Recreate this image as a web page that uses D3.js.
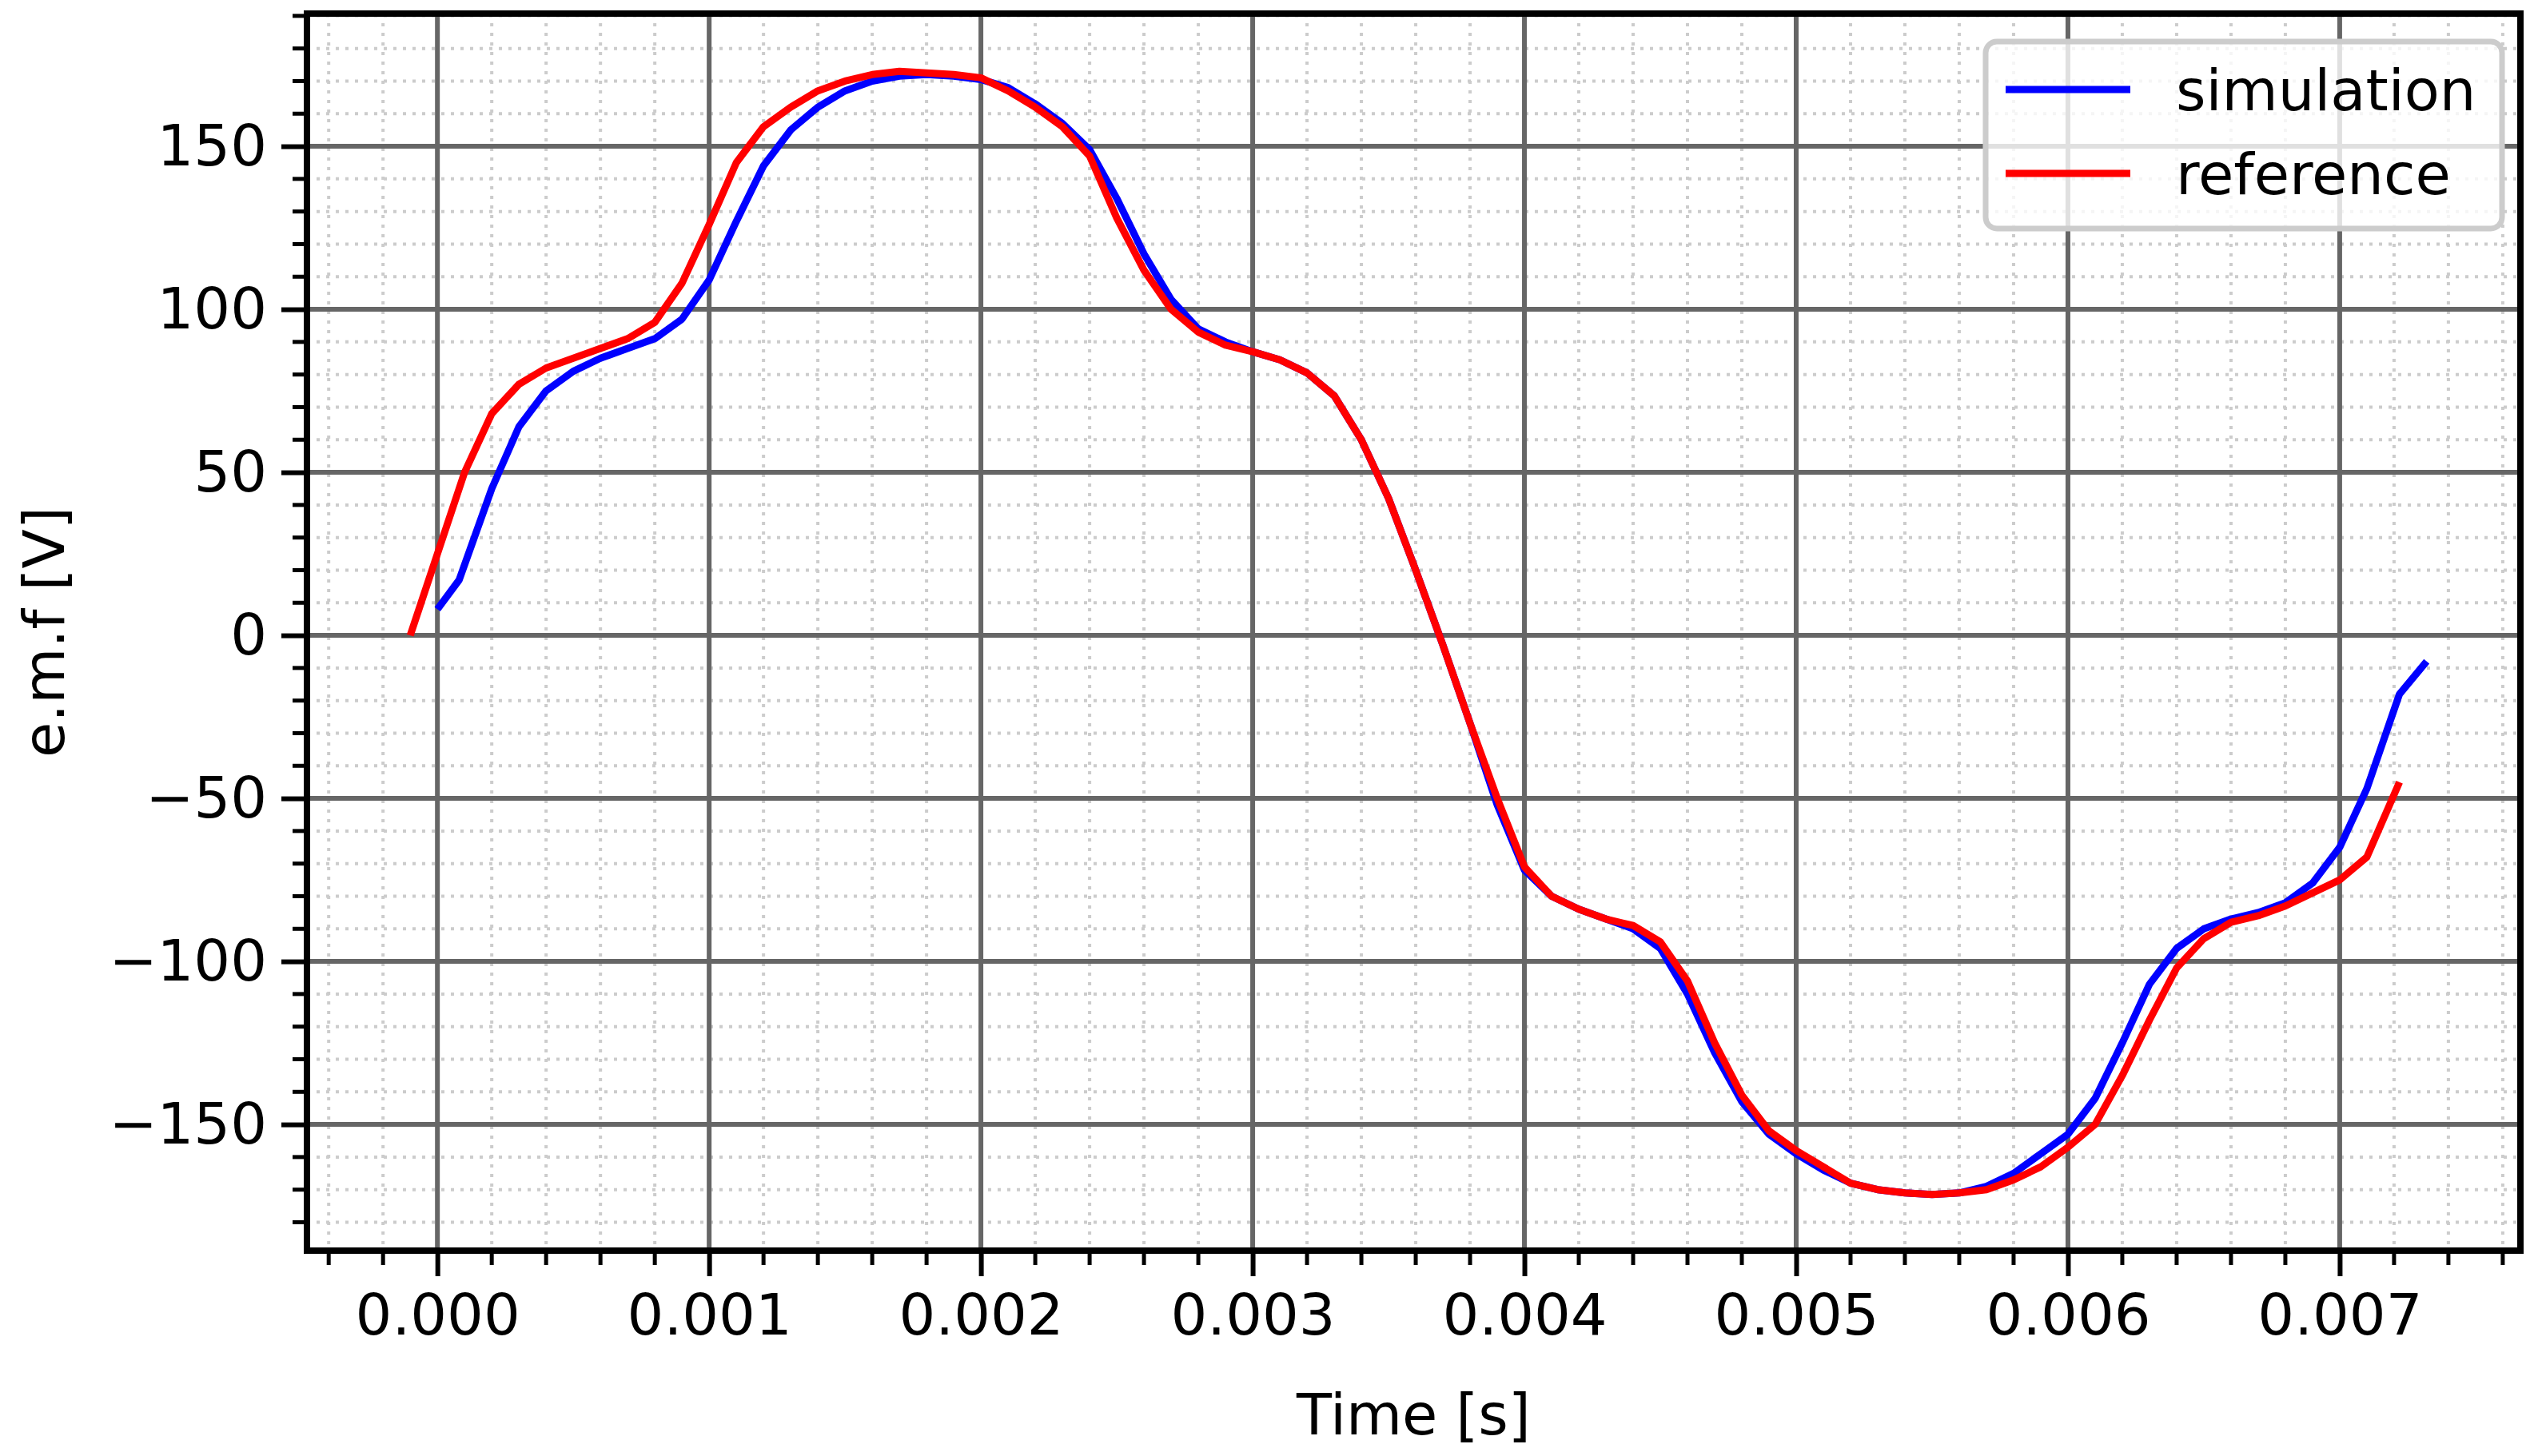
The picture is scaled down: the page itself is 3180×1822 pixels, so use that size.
<!DOCTYPE html>
<html>
<head>
<meta charset="utf-8">
<script src="https://cdn.jsdelivr.net/npm/d3@7"></script>
<style>
  body { margin: 0; background: #fff; }
  text { font-family: "DejaVu Sans", sans-serif; }
</style>
</head>
<body>
<svg id="chart" width="3180" height="1822"></svg>
<script>
// simulation series
const simTime = [0, 0.00008, 0.0002, 0.0003, 0.0004, 0.0005, 0.0006, 0.0007, 0.0008, 0.0009, 0.001, 0.0011, 0.0012, 0.0013, 0.0014, 0.0015, 0.0016, 0.0017, 0.0018, 0.0019, 0.002, 0.0021, 0.0022, 0.0023, 0.0024, 0.0025, 0.0026, 0.0027, 0.0028, 0.0029, 0.003, 0.0031, 0.0032, 0.0033, 0.0034, 0.0035, 0.0036, 0.0037, 0.0038, 0.0039, 0.004, 0.0041, 0.0042, 0.0043, 0.0044, 0.0045, 0.0046, 0.0047, 0.0048, 0.0049, 0.005, 0.0051, 0.0052, 0.0053, 0.0054, 0.0055, 0.0056, 0.0057, 0.0058, 0.0059, 0.006, 0.0061, 0.0062, 0.0063, 0.0064, 0.0065, 0.0066, 0.0067, 0.0068, 0.0069, 0.007, 0.0071, 0.00722, 0.00732];
const simValues = [8, 17, 45, 64, 75, 81, 85, 88, 91, 97, 109, 127, 144, 155, 162, 167, 170, 171.5, 172, 171.5, 170.5, 168, 163, 157, 149, 134, 117, 103, 94, 90, 87, 84.5, 80.5, 73.5, 60, 42, 20, -3, -27, -52, -72, -80, -84, -87, -90, -96, -110, -128, -143, -153, -159, -164, -168, -170, -171, -171.5, -171, -169, -165, -159, -153, -142, -125, -107, -96, -90, -87, -85, -82, -76, -65, -47, -18, -8];

// reference series
const refTime = [-0.0001, 0, 0.0001, 0.0002, 0.0003, 0.0004, 0.0005, 0.0006, 0.0007, 0.0008, 0.0009, 0.001, 0.0011, 0.0012, 0.0013, 0.0014, 0.0015, 0.0016, 0.0017, 0.0018, 0.0019, 0.002, 0.0021, 0.0022, 0.0023, 0.0024, 0.0025, 0.0026, 0.0027, 0.0028, 0.0029, 0.003, 0.0031, 0.0032, 0.0033, 0.0034, 0.0035, 0.0036, 0.0037, 0.0038, 0.0039, 0.004, 0.0041, 0.0042, 0.0043, 0.0044, 0.0045, 0.0046, 0.0047, 0.0048, 0.0049, 0.005, 0.0051, 0.0052, 0.0053, 0.0054, 0.0055, 0.0056, 0.0057, 0.0058, 0.0059, 0.006, 0.0061, 0.0062, 0.0063, 0.0064, 0.0065, 0.0066, 0.0067, 0.0068, 0.0069, 0.007, 0.0071, 0.00722];
const refValues = [0, 25, 50, 68, 77, 82, 85, 88, 91, 96, 108, 126, 145, 156, 162, 167, 170, 172, 173, 172.5, 172, 171, 167, 162, 156, 147, 128, 112, 100, 93, 89, 87, 84.5, 80.5, 73.5, 60, 42, 20, -3, -27, -50, -71, -80, -84, -87, -89, -94, -106, -125, -141, -152, -158, -163, -168, -170, -171, -171.5, -171, -170, -167, -163, -157, -150, -135, -118, -102, -93, -88, -86, -83, -79, -75, -68, -45];

const xTicks = [0, 0.001, 0.002, 0.003, 0.004, 0.005, 0.006, 0.007];
const yTicks = [-150, -100, -50, 0, 50, 100, 150];

const plotL = 384, plotR = 3153, plotT = 17, plotB = 1565;
const svg = d3.select("#chart");

const x = d3.scaleLinear().domain([-0.00048, 0.007665]).range([plotL, plotR]);
const y = d3.scaleLinear().domain([-188.7, 190.7]).range([plotB, plotT]);

const xMinor = d3.range(-0.0004, 0.00767, 0.0002).map(d => +d.toFixed(5));
const yMinor = d3.range(-180, 191, 10);

// minor grid
svg.append("g").selectAll("line").data(xMinor).join("line")
  .attr("x1", d => x(d)).attr("x2", d => x(d)).attr("y1", plotT).attr("y2", plotB)
  .attr("stroke", "#cccccc").attr("stroke-width", 4).attr("stroke-dasharray", "4,8");
svg.append("g").selectAll("line").data(yMinor).join("line")
  .attr("y1", d => y(d)).attr("y2", d => y(d)).attr("x1", plotL).attr("x2", plotR)
  .attr("stroke", "#cccccc").attr("stroke-width", 4).attr("stroke-dasharray", "4,8");

// major grid
svg.append("g").selectAll("line").data(xTicks).join("line")
  .attr("x1", d => x(d)).attr("x2", d => x(d)).attr("y1", plotT).attr("y2", plotB)
  .attr("stroke", "#666666").attr("stroke-width", 6);
svg.append("g").selectAll("line").data(yTicks).join("line")
  .attr("y1", d => y(d)).attr("y2", d => y(d)).attr("x1", plotL).attr("x2", plotR)
  .attr("stroke", "#666666").attr("stroke-width", 6);

// lines
const line = d3.line().x(d => x(d[0])).y(d => y(d[1]));
svg.append("path").datum(simTime.map((t, i) => [t, simValues[i]]))
  .attr("d", line).attr("fill", "none").attr("stroke", "#0000ff").attr("stroke-width", 9)
  .attr("stroke-linejoin", "round");
svg.append("path").datum(refTime.map((t, i) => [t, refValues[i]]))
  .attr("d", line).attr("fill", "none").attr("stroke", "#ff0000").attr("stroke-width", 9)
  .attr("stroke-linejoin", "round");

// axes
const xAxis = svg.append("g").attr("transform", `translate(0,${plotB})`)
  .call(d3.axisBottom(x).tickValues(xTicks).tickFormat(d3.format(".3f")).tickSize(32).tickPadding(22));
const yAxis = svg.append("g").attr("transform", `translate(${plotL},0)`)
  .call(d3.axisLeft(y).tickValues(yTicks).tickFormat(d => d < 0 ? "\u2212" + Math.abs(d) : d).tickSize(32).tickPadding(18));
[xAxis, yAxis].forEach(a => {
  a.select(".domain").remove();
  a.selectAll(".tick line").attr("stroke", "#000").attr("stroke-width", 6);
  a.selectAll(".tick text").attr("font-size", 72).attr("fill", "#000")
    .attr("font-family", "DejaVu Sans");
});

// minor ticks
svg.append("g").selectAll("line").data(xMinor.filter(d => !xTicks.some(t => Math.abs(t - d) < 1e-9))).join("line")
  .attr("x1", d => x(d)).attr("x2", d => x(d)).attr("y1", plotB).attr("y2", plotB + 18)
  .attr("stroke", "#000").attr("stroke-width", 5);
svg.append("g").selectAll("line").data(yMinor.filter(d => d % 50 !== 0)).join("line")
  .attr("y1", d => y(d)).attr("y2", d => y(d)).attr("x1", plotL).attr("x2", plotL - 18)
  .attr("stroke", "#000").attr("stroke-width", 5);

// frame
svg.append("rect").attr("x", plotL).attr("y", plotT).attr("width", plotR - plotL).attr("height", plotB - plotT)
  .attr("fill", "none").attr("stroke", "#000").attr("stroke-width", 8);

// axis labels
svg.append("text").attr("x", (plotL + plotR) / 2).attr("y", 1795).attr("text-anchor", "middle")
  .attr("font-size", 72).text("Time [s]");
svg.append("text").attr("transform", `translate(80,${(plotT + plotB) / 2}) rotate(-90)`)
  .attr("text-anchor", "middle").attr("font-size", 72).text("e.m.f [V]");

// legend
const lg = svg.append("g");
lg.append("rect").attr("x", 2484).attr("y", 52).attr("width", 646).attr("height", 234).attr("rx", 14)
  .attr("fill", "rgba(255,255,255,0.8)").attr("stroke", "#cccccc").attr("stroke-width", 7);
const legendItems = [["simulation", "#0000ff"], ["reference", "#ff0000"]];
legendItems.forEach((d, i) => {
  const cy = 112 + i * 105;
  lg.append("line").attr("x1", 2509).attr("x2", 2665).attr("y1", cy).attr("y2", cy)
    .attr("stroke", d[1]).attr("stroke-width", 9);
  lg.append("text").attr("x", 2722).attr("y", cy + 26).attr("font-size", 72).text(d[0]);
});
</script>
</body>
</html>
